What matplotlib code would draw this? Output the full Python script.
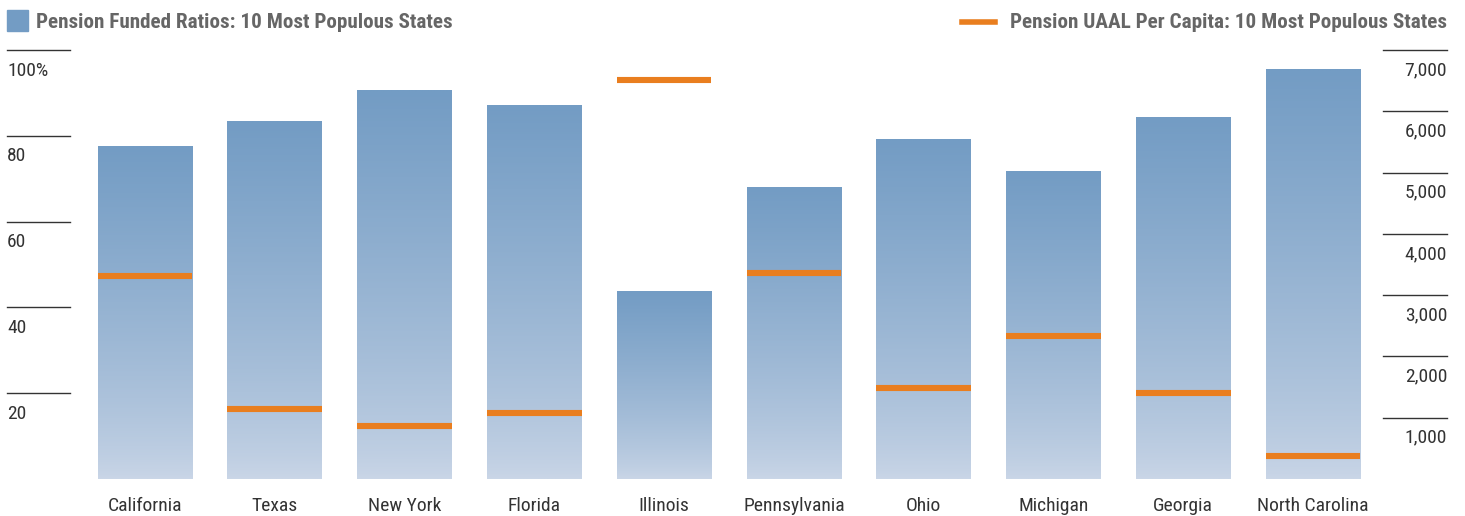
import numpy as np
import matplotlib
matplotlib.use("Agg")
import matplotlib.pyplot as plt
import matplotlib.transforms as mtransforms
from matplotlib.lines import Line2D
from matplotlib.patches import Rectangle
from matplotlib.colors import LinearSegmentedColormap

# Data
states = ["California", "Texas", "New York", "Florida", "Illinois",
          "Pennsylvania", "Ohio", "Michigan", "Georgia", "North Carolina"]
funded_ratio = [77.5, 83.3, 90.5, 87.0, 43.8, 67.9, 79.1, 71.6, 84.2, 95.4]
uaal_per_capita = [3310, 1140, 865, 1075, 6510, 3360, 1485, 2335, 1400, 375]

left_ticks = [20, 40, 60, 80, 100]
left_labels = ["20", "40", "60", "80", "100%"]
right_ticks = [1000, 2000, 3000, 4000, 5000, 6000, 7000]
right_labels = ["1,000", "2,000", "3,000", "4,000", "5,000", "6,000", "7,000"]

FONT = ["Liberation Sans Narrow", "Roboto Condensed", "DejaVu Sans"]
plt.rcParams["font.family"] = FONT

BLUE_TOP = "#739cc4"
BLUE_BOT = "#cad6e7"
ORANGE = "#e97e1f"
W, H = 1465, 516

fig = plt.figure(figsize=(W / 100, H / 100), dpi=100)
ax = fig.add_axes([75 / W, (H - 479) / H, (1383 - 75) / W, (479 - 50) / H])
ax2 = ax.twinx()

x = np.arange(len(states))
bw = 0.73

# gradient bars (per bar, dark at top -> light at bottom)
cmap = LinearSegmentedColormap.from_list("g", [BLUE_BOT, BLUE_TOP])
grad = (np.linspace(0, 1, 256) ** 0.75).reshape(-1, 1)
bars = ax.bar(x, funded_ratio, width=bw, color="none", edgecolor="none")
for b in bars:
    bx, by = b.get_x(), b.get_y()
    ax.imshow(grad, cmap=cmap, origin="lower", aspect="auto",
              extent=(bx, bx + b.get_width(), by, by + b.get_height()),
              interpolation="bilinear", zorder=1)
ax.set_xlim(-0.54, 9.54)
ax.set_ylim(0, 100)
ax2.set_ylim(0, 7000)

# orange UAAL markers
ax2.hlines(uaal_per_capita, x - bw / 2, x + bw / 2, colors=ORANGE,
           linewidth=4.4, zorder=3)

for a in (ax, ax2):
    for s in a.spines.values():
        s.set_visible(False)
    a.set_yticks([])
    a.tick_params(length=0)
ax.set_xticks(x)
ax.set_xticklabels(states, fontsize=14, color="#333333")
ax.tick_params(axis="x", pad=13)

# left tick lines and labels
tl = mtransforms.blended_transform_factory(fig.transFigure, ax.transData)
for v, lab in zip(left_ticks, left_labels):
    fig.add_artist(Line2D([7 / W, 70 / W], [v, v], transform=tl,
                          color="#333333", lw=1.0))
    ax.text(7 / W, v - 2.7, lab, transform=tl, ha="left", va="top",
            fontsize=14, color="#333333")

# right tick lines and labels
tr = mtransforms.blended_transform_factory(fig.transFigure, ax2.transData)
for v, lab in zip(right_ticks, right_labels):
    fig.add_artist(Line2D([1383 / W, 1447 / W], [v, v], transform=tr,
                          color="#333333", lw=1.0))
    ax2.text(1447 / W, v - 180, lab, transform=tr, ha="right", va="top",
             fontsize=14, color="#333333")

# legend headers
fig.add_artist(Rectangle((7 / W, (H - 31) / H), 21 / W, 21 / H,
                         transform=fig.transFigure, color=BLUE_TOP))
fig.text(36 / W, (H - 22) / H, "Pension Funded Ratios: 10 Most Populous States",
         fontsize=15.2, fontweight="bold", color="#666666", va="center")
fig.add_artist(Line2D([962 / W, 995 / W], [(H - 21.5) / H] * 2,
                      transform=fig.transFigure, color=ORANGE, lw=4.0))
fig.text(1447 / W, (H - 22) / H, "Pension UAAL Per Capita: 10 Most Populous States",
         fontsize=15.2, fontweight="bold", color="#666666", va="center", ha="right")

fig.savefig("out.png", dpi=100)
